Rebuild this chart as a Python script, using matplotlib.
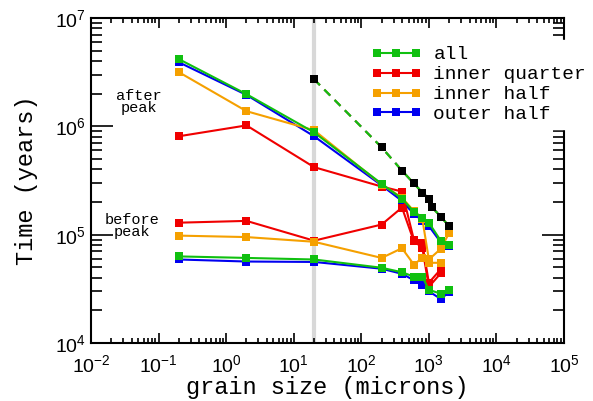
import matplotlib
matplotlib.use("Agg")
import matplotlib.pyplot as plt
from matplotlib.ticker import LogLocator

plt.rcParams['font.family'] = 'Liberation Sans'
plt.rcParams['mathtext.fontset'] = 'custom'
plt.rcParams['mathtext.rm'] = 'Liberation Sans'

MONO = 'Liberation Mono'

# grain sizes (microns)
grain = [0.2, 2, 20, 200, 400, 600, 800, 1000, 1500, 2000]
grain_quarter = [0.2, 2, 20, 200, 400, 600, 800, 1000, 1500]
grain_half_before = [0.2, 2, 20, 200, 400, 600, 800, 1000, 1500]

# times (years), after and before the peak
all_after = [4.17e6, 1.98e6, 8.8e5, 2.95e5, 2.15e5, 1.63e5, 1.44e5, 1.29e5, 8.8e4, 8.1e4]
all_before = [6.3e4, 6.1e4, 5.9e4, 4.95e4, 4.5e4, 4.1e4, 4.1e4, 3.1e4, 2.85e4, 3.1e4]
outer_after = [3.9e6, 1.95e6, 8.1e5, 2.85e5, 2.05e5, 1.55e5, 1.35e5, 1.2e5, 8.5e4, 7.9e4]
outer_before = [5.9e4, 5.65e4, 5.6e4, 4.85e4, 4.35e4, 3.8e4, 3.4e4, 3.0e4, 2.55e4, 2.95e4]
quarter_after = [8.1e5, 1.02e6, 4.2e5, 2.78e5, 2.5e5, 9.0e4, 8.3e4, 3.6e4, 4.8e4]
quarter_before = [1.29e5, 1.34e5, 8.8e4, 1.24e5, 1.78e5, 8.7e4, 7.6e4, 3.3e4, 4.4e4]
half_after = [3.16e6, 1.38e6, 9.2e5, 2.9e5, 2.2e5, 1.65e5, 1.4e5, 5.9e4, 7.4e4, 1.04e5]
half_before = [9.8e4, 9.5e4, 8.6e4, 6.1e4, 7.5e4, 5.3e4, 6.1e4, 5.5e4, 5.5e4]

# peak times
peak_grain = [20, 200, 400, 600, 800, 1000, 1100, 1500, 2000]
peak_time = [2.72e6, 6.4e5, 3.9e5, 2.97e5, 2.45e5, 2.15e5, 1.8e5, 1.47e5, 1.19e5]

GREEN = '#10c010'
RED = '#f00000'
ORANGE = '#f5a000'
BLUE = '#0000f0'

fig = plt.figure(figsize=(5.93, 4.01), dpi=100)
ax = fig.add_axes([91 / 593, 1 - 343 / 401, 473 / 593, 325 / 401])

ax.axvline(20, color='#d8d8d8', lw=3, zorder=0.5)

style = dict(marker='s', ms=6, lw=1.5, mew=0)

# peak curves (dashed)
for c in [BLUE, ORANGE, GREEN]:
    ax.plot(peak_grain, peak_time, color=c, lw=1.5, ls=(0, (4, 3)), zorder=2)
ax.plot(peak_grain, peak_time, ls='none', marker='s', ms=6, mew=0, color='black', zorder=3)

ax.plot(grain, outer_after, color=BLUE, label='outer half', **style)
ax.plot(grain, outer_before, color=BLUE, **style)
ax.plot(grain_quarter, quarter_after, color=RED, label='inner quarter', **style)
ax.plot(grain_quarter, quarter_before, color=RED, **style)
ax.plot(grain, half_after, color=ORANGE, label='inner half', **style)
ax.plot(grain_half_before, half_before, color=ORANGE, **style)
ax.plot(grain, all_after, color=GREEN, label='all', **style)
ax.plot(grain, all_before, color=GREEN, **style)

ax.set_xscale('log')
ax.set_yscale('log')
ax.set_xlim(1e-2, 1e5)
ax.set_ylim(1e4, 1e7)
ax.xaxis.set_major_locator(LogLocator(base=10, numticks=20))
ax.xaxis.set_minor_locator(LogLocator(base=10, subs=range(2, 10), numticks=20))

for s in ax.spines.values():
    s.set_linewidth(1.5)

ax.tick_params(axis='both', which='both', direction='in', top=True, right=True,
               width=1.2, labelsize=14)
ax.tick_params(axis='x', which='major', length=7, pad=8)
ax.tick_params(axis='x', which='minor', length=3.5)
ax.tick_params(axis='y', which='major', length=16)
ax.tick_params(axis='y', which='minor', length=8)

ax.set_xlabel('grain size (microns)', family=MONO, fontsize=17, labelpad=0)
ax.set_ylabel('Time (years)', family=MONO, fontsize=17, labelpad=12)

ax.text(0.101, 0.742, 'after\npeak', transform=ax.transAxes, family=MONO,
        fontsize=11, ha='center', va='center', linespacing=0.85)
ax.text(0.087, 0.36, 'before\npeak', transform=ax.transAxes, family=MONO,
        fontsize=11, ha='center', va='center', linespacing=0.85)

handles, labels = ax.get_legend_handles_labels()
order = [labels.index(n) for n in ['all', 'inner quarter', 'inner half', 'outer half']]
leg = fig.legend([handles[i] for i in order], [labels[i] for i in order],
                 loc='upper right', bbox_to_anchor=(592 / 593, 1 - 40 / 401),
                 prop={'family': MONO, 'size': 14}, numpoints=3,
                 handlelength=2.6, handletextpad=0.6, labelspacing=0.12,
                 borderpad=0.3, borderaxespad=0, frameon=True, fancybox=False,
                 framealpha=1, facecolor='white', edgecolor='white')
leg.set_zorder(5)

fig.savefig('out.png', dpi=100)
